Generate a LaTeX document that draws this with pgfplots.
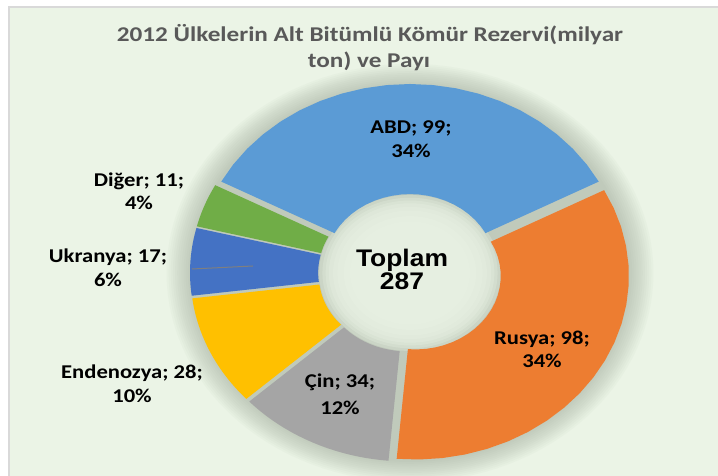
\documentclass[border=0pt]{standalone}
\usepackage{pgfplots}
\pgfplotsset{compat=1.18}
\usepackage{pgfplotstable}
\usepackage{fontspec}
\setmainfont{Carlito}
\newfontfamily\labfont[FakeStretch=1.16]{Carlito}
\newfontfamily\ttlfont[FakeStretch=1.2]{Carlito}
\newfontfamily\totfont[FakeStretch=1.1]{Liberation Sans}
\definecolor{cABD}{HTML}{5B9BD5}
\definecolor{cRUS}{HTML}{ED7D31}
\definecolor{cCIN}{HTML}{A5A5A5}
\definecolor{cEND}{HTML}{FFC000}
\definecolor{cUKR}{HTML}{4472C4}
\definecolor{cDIG}{HTML}{70AD47}
\definecolor{panel}{HTML}{EBF4E6}
\definecolor{frame}{HTML}{D9D9D9}
\definecolor{shadow}{HTML}{8E9A89}
\definecolor{ttl}{HTML}{595959}
\definecolor{leader}{HTML}{7F7F7F}

\pgfplotstableread{
label value
ABD 99
Rusya 98
Cin 34
Endenozya 28
Ukranya 17
Diger 11
}\donut

\newcommand\CX{410}
\newcommand\CY{203}
\newcommand\SX{213.6}
\newcommand\SY{183.5}
\newcommand\RIN{0.40}
\newcommand\EXP{0.03}

\pgfplotsset{ringpts/.style={samples at={0,0.05,0.1,0.15,0.2,0.25,0.3,0.35,0.4,0.45,0.5,0.55,0.6,0.65,0.7,0.75,0.8,0.85,0.9,0.95,1,1.0001,1.05,1.1,1.15,1.2,1.25,1.3,1.35,1.4,1.45,1.5,1.55,1.6,1.65,1.7,1.75,1.8,1.85,1.9,1.95,2}}}

% #1 start angle, #2 end angle (clockwise from top), #3 colour
\newcommand\slice[3]{%
  \addplot[fill=#3, draw=none, variable=\t, ringpts]
  ({\CX+\SX*( ((\t<1.00005)*1+(\t>1.00005)*\RIN)*sin((\t<1.00005)*(#1+(#2-#1)*\t)+(\t>1.00005)*(#2-(#2-#1)*(\t-1))) + \EXP*sin((#1+#2)/2) )},
   {\CY+\SY*( ((\t<1.00005)*1+(\t>1.00005)*\RIN)*cos((\t<1.00005)*(#1+(#2-#1)*\t)+(\t>1.00005)*(#2-(#2-#1)*(\t-1))) + \EXP*cos((#1+#2)/2) )});
}

\begin{document}
\begin{tikzpicture}
\pgfplotstablegetelem{0}{value}\of\donut\let\vA\pgfplotsretval
\pgfplotstablegetelem{1}{value}\of\donut\let\vB\pgfplotsretval
\pgfplotstablegetelem{2}{value}\of\donut\let\vC\pgfplotsretval
\pgfplotstablegetelem{3}{value}\of\donut\let\vD\pgfplotsretval
\pgfplotstablegetelem{4}{value}\of\donut\let\vE\pgfplotsretval
\pgfplotstablegetelem{5}{value}\of\donut\let\vF\pgfplotsretval
\pgfmathsetmacro\tot{\vA+\vB+\vC+\vD+\vE+\vF}
\pgfmathsetmacro\aA{-180*(\vA/\tot)}
\pgfmathsetmacro\aB{\aA+360*(\vA/\tot)}
\pgfmathsetmacro\aC{\aB+360*(\vB/\tot)}
\pgfmathsetmacro\aD{\aC+360*(\vC/\tot)}
\pgfmathsetmacro\aE{\aD+360*(\vD/\tot)}
\pgfmathsetmacro\aF{\aE+360*(\vE/\tot)}
\pgfmathsetmacro\aG{\aF+360*(\vF/\tot)}
\begin{axis}[
  name=ax,
  scale only axis, width=718pt, height=476pt,
  xmin=0, xmax=718, ymin=0, ymax=476,
  hide axis, enlargelimits=false,
]
% panel and frame
\addplot[fill=panel, draw=none] coordinates {(9,0) (9,469) (718,469) (718,0)};
\addplot[draw=frame, line width=1.5pt] coordinates {(9,0) (9,469) (718,469)};
% soft shadow behind the ring
\pgfplotsinvokeforeach{1.14,1.13,1.12,1.11,1.10,1.09,1.08,1.07,1.06,1.05,1.04,1.03}{
  \addplot[fill=shadow, fill opacity=0.045, draw=none, domain=0:360, samples=121]
   ({\CX+\SX*#1*cos(x)},{\CY+\SY*#1*sin(x)});
}
% light centre of the hole
\pgfplotsinvokeforeach{0.425,0.41,0.395,0.38,0.36,0.34,0.31,0.28}{
  \addplot[fill=panel, fill opacity=0.28, draw=none, domain=0:360, samples=91]
   ({\CX+\SX*#1*cos(x)},{\CY+\SY*#1*sin(x)});
}
% slices
\slice{\aA}{\aB}{cABD}
\slice{\aB}{\aC}{cRUS}
\slice{\aC}{\aD}{cCIN}
\slice{\aD}{\aE}{cEND}
\slice{\aE}{\aF}{cUKR}
\slice{\aF}{\aG}{cDIG}
% leader line
\addplot[draw=leader, line width=1pt] coordinates {(192,207) (253,210)};

% title
\node[anchor=base, text=ttl, font=\ttlfont\bfseries\fontsize{21}{24}\selectfont] at (axis cs:370,434) {2012 Ülkelerin Alt Bitümlü Kömür Rezervi(milyar};
\node[anchor=base, text=ttl, font=\ttlfont\bfseries\fontsize{21}{24}\selectfont] at (axis cs:369,408) {ton) ve Payı};
% data labels
\tikzset{lab/.style={anchor=base, text=black, font=\labfont\bfseries\fontsize{19.5}{23}\selectfont}}
\node[lab] at (axis cs:411,342) {ABD; 99;};
\node[lab] at (axis cs:411,318) {34\%};
\node[lab] at (axis cs:542,131) {Rusya; 98;};
\node[lab] at (axis cs:542,108) {34\%};
\node[lab] at (axis cs:340,88) {Çin; 34;};
\node[lab] at (axis cs:340,61) {12\%};
\node[lab] at (axis cs:132,97) {Endenozya; 28;};
\node[lab] at (axis cs:132,73) {10\%};
\node[lab] at (axis cs:108,213) {Ukranya; 17;};
\node[lab] at (axis cs:108,189) {6\%};
\node[lab] at (axis cs:139,289) {Diğer; 11;};
\node[lab] at (axis cs:139,266) {4\%};
% total
\node[anchor=base, text=black, font=\totfont\bfseries\fontsize{24}{24}\selectfont] at (axis cs:402,209) {Toplam};
\node[anchor=base, text=black, font=\totfont\bfseries\fontsize{24}{24}\selectfont] at (axis cs:402,186) {287};
\end{axis}
\pgfresetboundingbox
\useasboundingbox (ax.south west) rectangle (ax.north east);
\end{tikzpicture}
\end{document}
